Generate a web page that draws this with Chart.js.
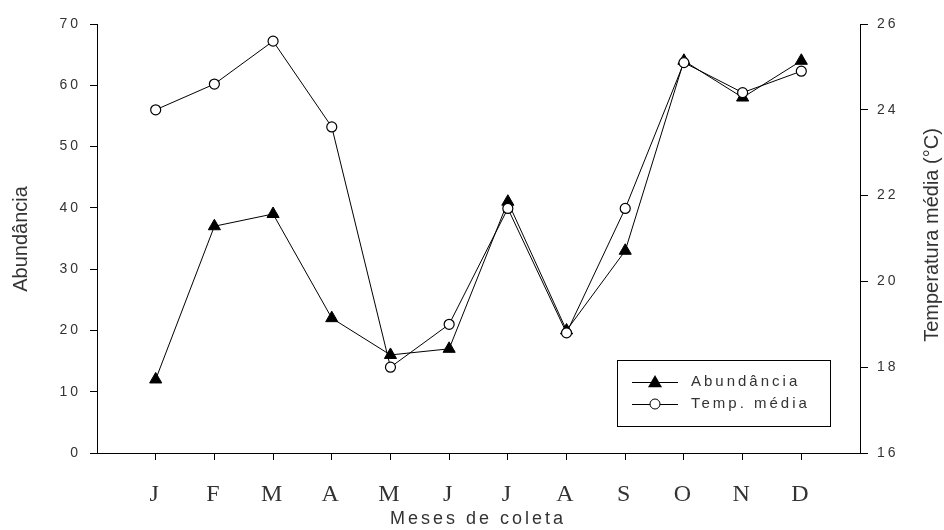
<!DOCTYPE html>
<html>
<head>
<meta charset="utf-8">
<script src="https://cdn.jsdelivr.net/npm/chart.js@4.4.1/dist/chart.umd.min.js"></script>
<style>
  html, body { margin: 0; padding: 0; background: #fff; }
  #c { display: block; }
</style>
</head>
<body>
<canvas id="c" width="944" height="530"></canvas>
<script>
// data
const months = ['J', 'F', 'M', 'A', 'M', 'J', 'J', 'A', 'S', 'O', 'N', 'D'];
const abundancia = [12, 37, 39, 22, 16, 17, 41, 20, 33, 64, 58, 64];
const tempMedia = [24.0, 24.6, 25.6, 23.6, 18.0, 19.0, 21.7, 18.8, 21.7, 25.1, 24.4, 24.9];
const leftTicks = [0, 10, 20, 30, 40, 50, 60, 70];
const rightTicks = [16, 18, 20, 22, 24, 26];

const TEXT = '#333';

const toPoints = arr => arr.map((v, i) => ({ x: i + 1, y: v }));

// titles + boxed legend, drawn by hand so letter spacing can differ per text
const decorations = {
    id: 'decorations',
    beforeDraw(chart) {
        chart.ctx.letterSpacing = '3px';
    },
    afterDraw(chart) {
        const ctx = chart.ctx;
        ctx.save();
        ctx.fillStyle = TEXT;
        ctx.textBaseline = 'middle';
        ctx.textAlign = 'center';

        // axis titles
        ctx.letterSpacing = '0px';
        ctx.font = '20px "Liberation Sans", Arial, sans-serif';
        ctx.save();
        ctx.translate(21, 239);
        ctx.rotate(-Math.PI / 2);
        ctx.fillText('Abundância', 0, 0);
        ctx.restore();

        ctx.save();
        ctx.translate(932, 235);
        ctx.rotate(-Math.PI / 2);
        ctx.fillText('Temperatura média (°C)', 0, 0);
        ctx.restore();

        ctx.letterSpacing = '3px';
        ctx.font = '18px "Liberation Sans", Arial, sans-serif';
        ctx.fillText('Meses de coleta', 478, 519);

        // legend box
        const bx = 617, by = 360, bw = 213, bh = 66;
        ctx.strokeStyle = '#000';
        ctx.lineWidth = 1;
        ctx.strokeRect(bx + 0.5, by + 0.5, bw, bh);

        const rows = [
            { label: 'Abundância', ds: chart.data.datasets[0], y: 382 },
            { label: 'Temp. média', ds: chart.data.datasets[1], y: 404 }
        ];
        ctx.font = '15px "Liberation Sans", Arial, sans-serif';
        ctx.textAlign = 'left';
        rows.forEach(r => {
            ctx.beginPath();
            ctx.moveTo(632, r.y + 0.5);
            ctx.lineTo(678, r.y + 0.5);
            ctx.strokeStyle = '#000';
            ctx.stroke();
            const cx = 655;
            ctx.beginPath();
            if (r.ds.pointStyle === 'triangle') {
                const s = r.ds.pointRadius;
                ctx.moveTo(cx, r.y - s);
                ctx.lineTo(cx + s, r.y + s * 0.75);
                ctx.lineTo(cx - s, r.y + s * 0.75);
                ctx.closePath();
                ctx.fillStyle = '#000';
                ctx.fill();
            } else {
                ctx.arc(cx, r.y, r.ds.pointRadius, 0, Math.PI * 2);
                ctx.fillStyle = '#fff';
                ctx.fill();
                ctx.stroke();
            }
            ctx.fillStyle = TEXT;
            ctx.fillText(r.label, 691, r.y);
        });
        ctx.restore();
    }
};

new Chart(document.getElementById('c'), {
    type: 'line',
    data: {
        datasets: [{
            label: 'Abundância',
            data: toPoints(abundancia),
            yAxisID: 'y',
            borderColor: '#000',
            borderWidth: 1,
            pointStyle: 'triangle',
            pointRadius: 7,
            pointBackgroundColor: '#000',
            pointBorderColor: '#000',
            pointBorderWidth: 1,
            order: 1
        }, {
            label: 'Temp. média',
            data: toPoints(tempMedia),
            yAxisID: 'y1',
            borderColor: '#000',
            borderWidth: 1,
            pointStyle: 'circle',
            pointRadius: 5,
            pointBackgroundColor: '#fff',
            pointBorderColor: '#000',
            pointBorderWidth: 1.2,
            order: 0
        }]
    },
    options: {
        responsive: false,
        animation: false,
        layout: { padding: { top: 24, left: 0, right: 0, bottom: 0 } },
        plugins: {
            legend: { display: false },
            tooltip: { enabled: false }
        },
        scales: {
            x: {
                type: 'linear',
                min: 0,
                max: months.length + 1,
                afterBuildTicks: s => {
                    s.ticks = months.map((m, i) => ({ value: i + 1 }));
                },
                afterFit: s => { s.height = 77; },
                grid: { drawOnChartArea: false, drawTicks: true, tickLength: 7, color: '#000' },
                border: { display: true, color: '#000', width: 1 },
                ticks: {
                    autoSkip: false,
                    maxRotation: 0,
                    padding: 20,
                    color: TEXT,
                    font: { family: '"Liberation Serif", "Times New Roman", serif', size: 24 },
                    callback: v => months[v - 1] || ''
                }
            },
            y: {
                position: 'left',
                min: leftTicks[0],
                max: leftTicks[leftTicks.length - 1],
                afterBuildTicks: s => { s.ticks = leftTicks.map(v => ({ value: v })); },
                afterFit: s => { s.width = 97; },
                grid: { drawOnChartArea: false, drawTicks: true, tickLength: 7, color: '#000' },
                border: { display: true, color: '#000', width: 1 },
                ticks: {
                    padding: 9,
                    color: TEXT,
                    font: { family: '"Liberation Sans", Arial, sans-serif', size: 14 }
                }
            },
            y1: {
                position: 'right',
                min: rightTicks[0],
                max: rightTicks[rightTicks.length - 1],
                afterBuildTicks: s => { s.ticks = rightTicks.map(v => ({ value: v })); },
                afterFit: s => { s.width = 84; },
                grid: { drawOnChartArea: false, drawTicks: true, tickLength: 8, color: '#000' },
                border: { display: true, color: '#000', width: 1 },
                ticks: {
                    padding: 9,
                    color: TEXT,
                    font: { family: '"Liberation Sans", Arial, sans-serif', size: 14 }
                }
            }
        }
    },
    plugins: [decorations]
});
</script>
</body>
</html>
